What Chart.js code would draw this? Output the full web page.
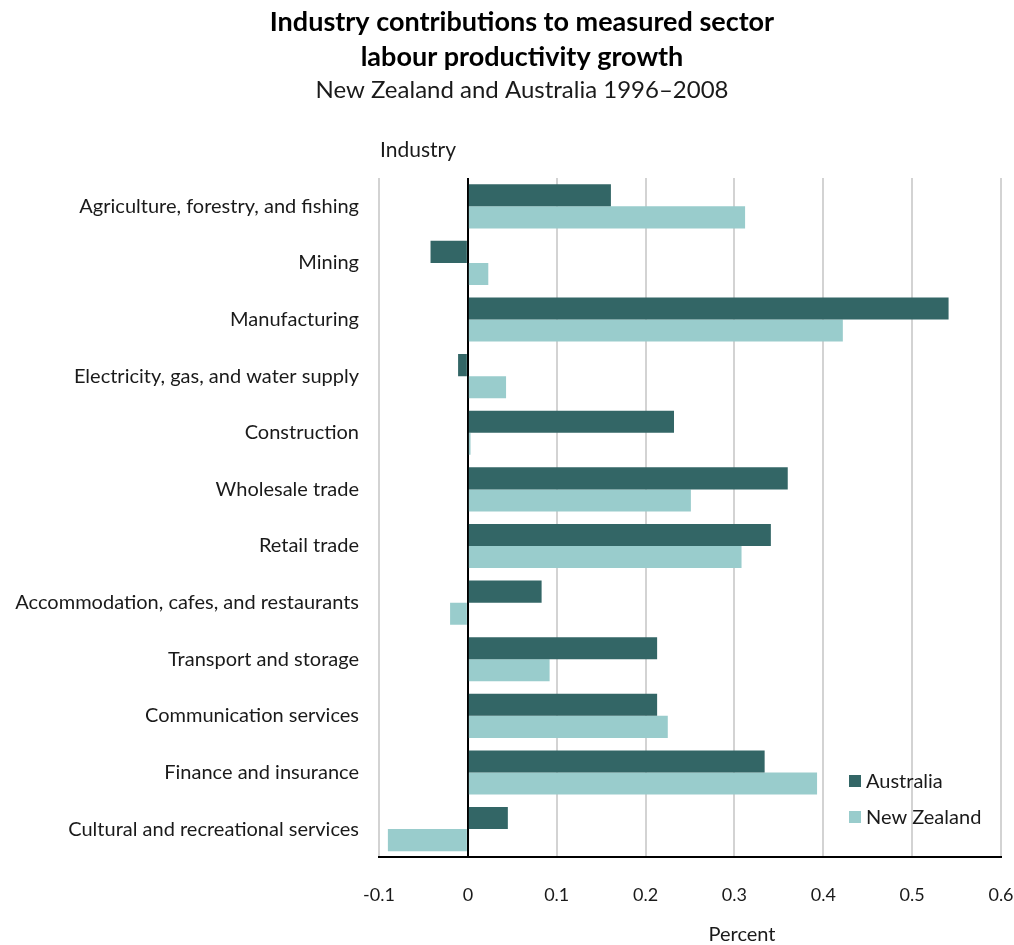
<!DOCTYPE html>
<html>
<head>
<meta charset="utf-8">
<script src="https://cdn.jsdelivr.net/npm/chart.js@4"></script>
<style>
  html, body { margin: 0; padding: 0; background: #fff; }
  #wrap { width: 1014px; height: 945px; }
</style>
</head>
<body>
<div id="wrap"><canvas id="productivity"></canvas></div>
<script>
const industries = [
    'Agriculture, forestry, and fishing',
    'Mining',
    'Manufacturing',
    'Electricity, gas, and water supply',
    'Construction',
    'Wholesale trade',
    'Retail trade',
    'Accommodation, cafes, and restaurants',
    'Transport and storage',
    'Communication services',
    'Finance and insurance',
    'Cultural and recreational services'
];

const australia = [0.161, -0.042, 0.541, -0.011, 0.232, 0.360, 0.341, 0.083, 0.213, 0.213, 0.334, 0.045];
const newZealand = [0.312, 0.023, 0.422, 0.043, 0.003, 0.251, 0.308, -0.020, 0.092, 0.225, 0.393, -0.090];

const xTicks = [-0.1, 0, 0.1, 0.2, 0.3, 0.4, 0.5, 0.6];

const titleLines = ['Industry contributions to measured sector', 'labour productivity growth'];
const subtitle = 'New Zealand and Australia 1996\u20132008';

const FONT = 'Lato, "Open Sans", sans-serif';
const TEXT = '#1a1a1a';

// titles, "Industry" heading, "Percent" axis name and the in-plot legend
const extras = {
    id: 'extras',
    afterDraw(chart) {
        const { ctx, chartArea } = chart;
        ctx.save();
        ctx.textBaseline = 'middle';
        ctx.textAlign = 'center';

        ctx.fillStyle = '#000';
        ctx.font = 'bold 27px ' + FONT;
        titleLines.forEach((line, i) => ctx.fillText(line, 522, 22 + i * 35));
        ctx.fillStyle = TEXT;
        ctx.font = '24px ' + FONT;
        ctx.fillText(subtitle, 522, 90);

        ctx.font = '20px ' + FONT;
        ctx.fillText('Percent', 742, 935);

        ctx.textAlign = 'left';
        ctx.font = '21px ' + FONT;
        ctx.fillText('Industry', chartArea.left + 1, chartArea.top - 28);

        ctx.font = '20px ' + FONT;
        chart.data.datasets.forEach((ds, i) => {
            const y = 781 + i * 36;
            const x = chartArea.right - 152;
            ctx.fillStyle = ds.backgroundColor;
            ctx.fillRect(x, y - 6, 12, 12);
            ctx.fillStyle = TEXT;
            ctx.fillText(ds.label, x + 17, y + 1);
        });
        ctx.restore();
    }
};

new Chart(document.getElementById('productivity'), {
    type: 'bar',
    data: {
        labels: industries,
        datasets: [
            {
                label: 'Australia',
                data: australia,
                backgroundColor: '#336666',
                borderWidth: 0,
                barPercentage: 1,
                categoryPercentage: 0.78
            },
            {
                label: 'New Zealand',
                data: newZealand,
                backgroundColor: '#99cccc',
                borderWidth: 0,
                barPercentage: 1,
                categoryPercentage: 0.78
            }
        ]
    },
    options: {
        indexAxis: 'y',
        animation: false,
        responsive: true,
        maintainAspectRatio: false,
        layout: {
            padding: { left: 0, right: 13, top: 178, bottom: 12 }
        },
        plugins: {
            legend: { display: false },
            tooltip: { enabled: false }
        },
        scales: {
            x: {
                min: -0.1,
                max: 0.6,
                afterBuildTicks: scale => {
                    scale.ticks = xTicks.map(v => ({ value: v }));
                },
                afterFit: scale => {
                    scale.paddingLeft = 0;
                    scale.paddingRight = 0;
                },
                ticks: {
                    color: TEXT,
                    font: { family: FONT, size: 18 },
                    padding: 27,
                    callback: value => String(Math.round(value * 10) / 10)
                },
                grid: {
                    drawTicks: false,
                    lineWidth: 2,
                    color: ctx => (ctx.tick && ctx.tick.value === 0 ? '#000' : '#d3d3d3')
                },
                border: { display: true, color: '#000', width: 2 }
            },
            y: {
                afterFit: scale => { scale.width = 379; },
                ticks: {
                    color: TEXT,
                    font: { family: FONT, size: 20 },
                    padding: 20
                },
                grid: { display: false, drawTicks: false },
                border: { display: false }
            }
        }
    },
    plugins: [extras]
});
</script>
</body>
</html>
